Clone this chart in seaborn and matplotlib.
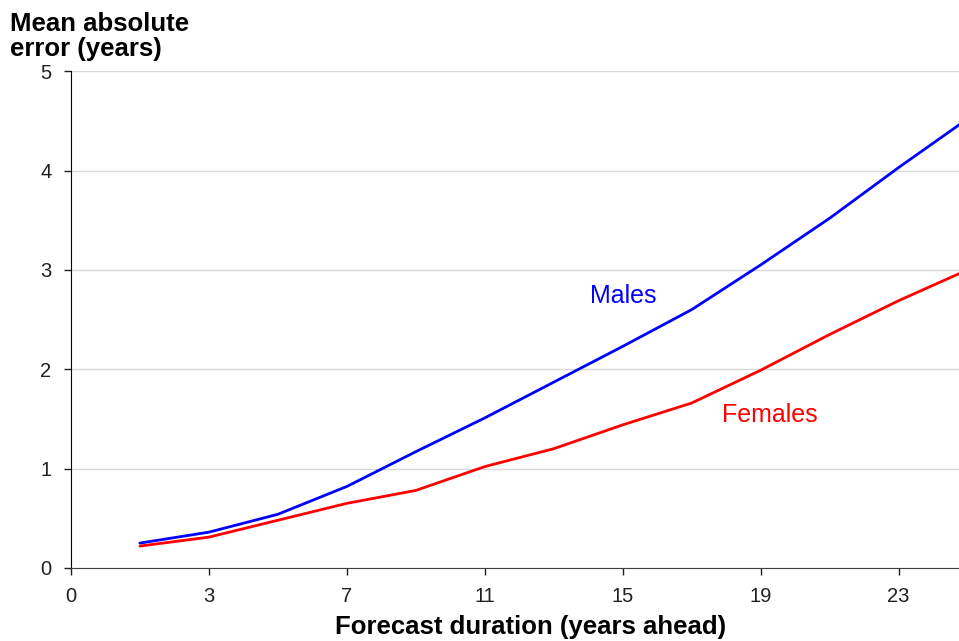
import pandas as pd
import matplotlib.pyplot as plt
import seaborn as sns

# forecast durations (years ahead) and mean absolute error (years)
years = [1, 3, 5, 7, 9, 11, 13, 15, 17, 19, 21, 23, 25]
males = [0.25, 0.36, 0.54, 0.82, 1.17, 1.51, 1.87, 2.23, 2.60, 3.05, 3.52, 4.03, 4.52]
females = [0.22, 0.31, 0.48, 0.65, 0.78, 1.02, 1.20, 1.44, 1.66, 1.99, 2.35, 2.69, 3.00]

tick_pos = [-1, 3, 7, 11, 15, 19, 23]
tick_labels = ['0', '3', '7', '11', '15', '19', '23']

df = pd.DataFrame({
    'Years': years * 2,
    'MAE': males + females,
    'Sex': ['Males'] * len(years) + ['Females'] * len(years),
})

sns.set_style('white')
plt.rcParams['font.family'] = ['Liberation Sans', 'DejaVu Sans']
plt.rcParams['text.color'] = 'black'

fig = plt.figure(figsize=(9.59, 6.41), dpi=100)
ax = fig.add_axes([0.074, 0.114, 0.926, 0.775])

sns.lineplot(data=df, x='Years', y='MAE', hue='Sex',
             palette={'Males': '#0000ff', 'Females': '#ff0000'},
             linewidth=2, legend=False, ax=ax)

ax.set_xlim(-1, 24.75)
ax.set_ylim(0, 5)
ax.set_xticks(tick_pos)
ax.set_xticklabels(tick_labels)
ax.set_yticks([0, 1, 2, 3, 4, 5])
ax.yaxis.grid(True, color='#d9d9d9', linewidth=1)
ax.set_axisbelow(True)

for side in ['top', 'right']:
    ax.spines[side].set_visible(False)
ax.spines['left'].set_color('black')
ax.spines['bottom'].set_color('#404040')
ax.tick_params(axis='both', direction='out', length=5, width=1,
               labelsize=14.5, colors='#202020', pad=9, left=True, bottom=True)

ax.set_xlabel('Forecast duration (years ahead)', fontsize=18.5, fontweight='bold',
              color='black')
ax.xaxis.set_label_coords(0.517, -0.095)
ax.set_ylabel('')
fig.text(0.01, 0.905, 'Mean absolute\nerror (years)', fontsize=18.5,
         fontweight='bold', ha='left', va='bottom', linespacing=1.05)

ax.text(15, 2.74, 'Males', color='#0000ff', fontsize=18, ha='center', va='center')
ax.text(19.25, 1.54, 'Females', color='#ff0000', fontsize=18, ha='center', va='center')

plt.savefig('out.png', dpi=100)
plt.close()
